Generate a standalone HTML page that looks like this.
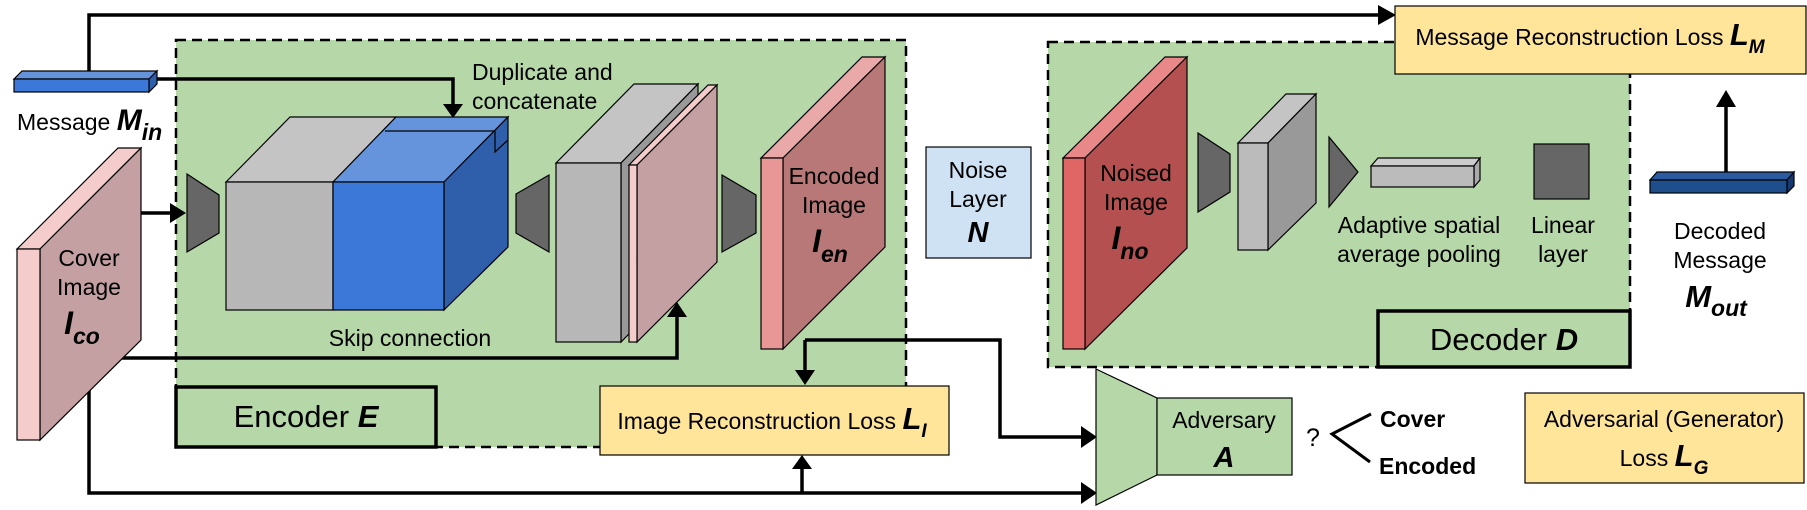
<!DOCTYPE html>
<html><head><meta charset="utf-8"><style>
html,body{margin:0;padding:0;background:#fff;}
svg{display:block;}
text{font-family:"Liberation Sans",Arial,sans-serif;fill:#000;}
.b{font-weight:bold;font-style:italic;}
</style></head><body>
<svg width="1807" height="510" viewBox="0 0 1807 510" xmlns="http://www.w3.org/2000/svg">
<g stroke="#000" stroke-width="1.2">
<rect x="176" y="40" width="730" height="407" fill="#b6d7a8" stroke-dasharray="10,6" stroke-width="2.5"/>
<rect x="1048" y="42" width="582" height="325" fill="#b6d7a8" stroke-dasharray="10,6" stroke-width="2.5"/>
</g>

<g stroke="#000" stroke-width="3.5" fill="none">
<polyline points="89,71 89,15 1380,15"/>
<polyline points="157,79 453,79 453,105"/>
<polyline points="121,213 172,213"/>
<polyline points="121,358 677,358 677,315"/>
<polyline points="805,340 805,372"/>
<polyline points="805,340 1000,340 1000,437 1083,437"/>
<polyline points="89,300 89,493 1083,493"/>
<polyline points="802,493 802,467"/>
<polyline points="1726,172 1726,105"/>
</g>
<g fill="#000">
<path d="M443,104 L463,104 L453,118 z"/>
<path d="M170,203 L186,213 L170,223 z"/>
<path d="M667,317 L687,317 L677,302 z"/>
<path d="M795,370 L815,370 L805,385 z"/>
<path d="M1081,426 L1097,437 L1081,448 z"/>
<path d="M1081,482 L1097,493 L1081,504 z"/>
<path d="M1378,5 L1396,15 L1378,25 z"/>
<path d="M792,469 L812,469 L802,455 z"/>
<path d="M1716,107 L1736,107 L1726,90 z"/>
</g>

<g stroke="#000" stroke-width="1.2">
<polygon points="14,79 22,71 157,71 149,79" fill="#6594dc"/>
<polygon points="149,79 157,71 157,84 149,92" fill="#2f5faa"/>
<rect x="14" y="79" width="135" height="13" fill="#3c78d8"/>
<polygon points="17,249 118,148 141,148 40,249" fill="#f4cccc"/>
<polygon points="40,249 141,148 141,340 40,440" fill="#c4a0a2"/>
<rect x="17" y="249" width="23" height="191" fill="#f4cccc"/>
<polygon points="187,174 219,195 219,233 187,252" fill="#666"/>
<polygon points="226,182 290,117 396,117 333,182" fill="#c4c4c4"/>
<polygon points="333,182 396,117 508,117 444,182" fill="#6594dc"/>
<line x1="385" y1="131" x2="495" y2="131"/>
<polygon points="444,182 508,117 508,247 444,310" fill="#2f5faa"/>
<polyline points="495,131 495,152 508,140" fill="none"/>
<rect x="226" y="182" width="107" height="128" fill="#b7b7b7"/>
<rect x="333" y="182" width="111" height="128" fill="#3c78d8"/>
<polygon points="516,194 549,175 549,252 516,233" fill="#666"/>
<polygon points="556,163 634,84 698,84 621,163" fill="#c4c4c4"/>
<polygon points="621,163 698,84 698,264 621,342" fill="#999"/>
<rect x="556" y="163" width="65" height="179" fill="#b7b7b7"/>
<polygon points="629,165 708,85 717,85 637,165" fill="#f4cccc"/>
<polygon points="637,165 717,85 717,262 637,342" fill="#c4a0a2"/>
<rect x="629" y="165" width="8" height="177" fill="#f4cccc"/>
<polygon points="722,175 756,195 756,233 722,252" fill="#666"/>
<polygon points="761,158 862,57 885,57 783,158" fill="#eaa9a9"/>
<polygon points="783,158 885,57 885,247 783,349" fill="#b87878"/>
<rect x="761" y="158" width="22" height="191" fill="#e89696"/>
<rect x="926" y="147" width="105" height="111" fill="#cfe2f3"/>
<polygon points="1063,158 1165,57 1187,57 1085,158" fill="#e88888"/>
<polygon points="1085,158 1187,57 1187,248 1085,349" fill="#b45050"/>
<rect x="1063" y="158" width="22" height="191" fill="#e06666"/>
<polygon points="1198,133 1230,154 1230,192 1198,212" fill="#666"/>
<polygon points="1238,143 1286,94 1316,94 1268,143" fill="#c4c4c4"/>
<polygon points="1268,143 1316,94 1316,203 1268,250" fill="#999"/>
<rect x="1238" y="143" width="30" height="107" fill="#bbb"/>
<polygon points="1329,137 1358,172 1329,207" fill="#666"/>
<polygon points="1371,166 1378,158 1480,158 1474,166" fill="#ccc"/>
<polygon points="1474,166 1480,158 1480,180 1474,187" fill="#aaa"/>
<rect x="1371" y="166" width="103" height="21" fill="#bbb"/>
<rect x="1534" y="144" width="55" height="55" fill="#666"/>
<polygon points="1650,180 1657,172 1794,172 1787,180" fill="#2a5aa0"/>
<polygon points="1787,180 1794,172 1794,186 1787,193" fill="#163a70"/>
<rect x="1650" y="180" width="137" height="13" fill="#1f4e8c"/>
<polygon points="1096,369 1157,398 1157,475 1096,505" fill="#b6d7a8"/>
<rect x="1157" y="398" width="135" height="77" fill="#b6d7a8"/>
<rect x="600" y="386" width="349" height="69" fill="#ffe599"/>
<rect x="1395" y="6" width="411" height="68" fill="#ffe599"/>
<rect x="1525" y="393" width="279" height="90" fill="#ffe599"/>
</g>
<rect x="176" y="387" width="260" height="60" fill="#b6d7a8" stroke="#000" stroke-width="3.5"/>
<rect x="1378" y="311" width="252" height="56" fill="#b6d7a8" stroke="#000" stroke-width="3.5"/>
<polyline points="1371,414 1332,434 1370,462" fill="none" stroke="#000" stroke-width="3"/>

<g font-size="23" text-anchor="middle">
<text x="17" y="130" text-anchor="start">Message <tspan class="b" font-size="30">M</tspan><tspan class="b" dy="10">in</tspan></text>
<text x="89" y="266">Cover</text>
<text x="89" y="295">Image</text>
<text x="82" y="334" class="b" font-size="32">I<tspan dy="10" font-size="23">co</tspan></text>
<text x="472" y="80" text-anchor="start">Duplicate and</text>
<text x="472" y="109" text-anchor="start">concatenate</text>
<text x="410" y="346">Skip connection</text>
<text x="834" y="184">Encoded</text>
<text x="834" y="213">Image</text>
<text x="830" y="252" class="b" font-size="32">I<tspan dy="10" font-size="23">en</tspan></text>
<text x="306" y="427" font-size="31">Encoder <tspan class="b">E</tspan></text>
<text x="978" y="178">Noise</text>
<text x="978" y="207">Layer</text>
<text x="978" y="242" class="b" font-size="29">N</text>
<text x="1136" y="181">Noised</text>
<text x="1136" y="210">Image</text>
<text x="1130" y="249" class="b" font-size="32">I<tspan dy="10" font-size="23">no</tspan></text>
<text x="1419" y="233">Adaptive spatial</text>
<text x="1419" y="262">average pooling</text>
<text x="1563" y="233">Linear</text>
<text x="1563" y="262">layer</text>
<text x="1504" y="350" font-size="31">Decoder <tspan class="b">D</tspan></text>
<text x="1720" y="239">Decoded</text>
<text x="1720" y="268">Message</text>
<text x="1716" y="307" class="b" font-size="31">M<tspan dy="9" font-size="23">out</tspan></text>
<text x="1590" y="45">Message Reconstruction Loss <tspan class="b" font-size="31">L</tspan><tspan class="b" dy="8" font-size="19">M</tspan></text>
<text x="772" y="429">Image Reconstruction Loss <tspan class="b" font-size="31">L</tspan><tspan class="b" dy="8" font-size="19">I</tspan></text>
<text x="1224" y="428">Adversary</text>
<text x="1224" y="467" class="b" font-size="29">A</text>
<text x="1313" y="446" font-size="25">?</text>
<text x="1380" y="427" text-anchor="start" font-weight="bold">Cover</text>
<text x="1379" y="474" text-anchor="start" font-weight="bold">Encoded</text>
<text x="1664" y="427">Adversarial (Generator)</text>
<text x="1664" y="466">Loss <tspan class="b" font-size="31">L</tspan><tspan class="b" dy="8" font-size="19">G</tspan></text>
</g>
</svg>
</body></html>
